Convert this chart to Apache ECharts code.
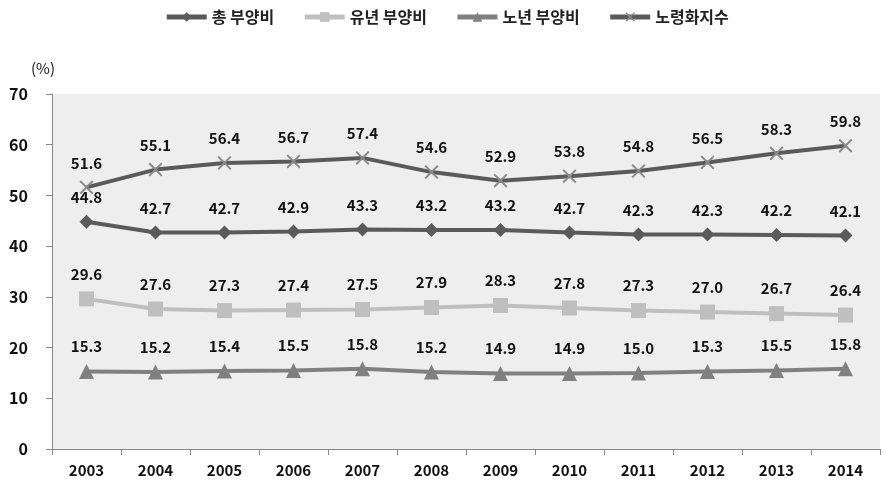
<!DOCTYPE html>
<html><head><meta charset="utf-8">
<script src="https://cdn.jsdelivr.net/npm/echarts@6/dist/echarts.min.js"></script>
<style>html,body{margin:0;padding:0;background:#fff}#c{width:893px;height:492px}</style>
</head><body><div id="c"></div>
<script>
const years = ['2003','2004','2005','2006','2007','2008','2009','2010','2011','2012','2013','2014'];
const total = [44.8,42.7,42.7,42.9,43.3,43.2,43.2,42.7,42.3,42.3,42.2,42.1];
const youth = [29.6,27.6,27.3,27.4,27.5,27.9,28.3,27.8,27.3,27.0,26.7,26.4];
const elderly = [15.3,15.2,15.4,15.5,15.8,15.2,14.9,14.9,15.0,15.3,15.5,15.8];
const aging = [51.6,55.1,56.4,56.7,57.4,54.6,52.9,53.8,54.8,56.5,58.3,59.8];
const names = ['총 부양비','유년 부양비','노년 부양비','노령화지수'];
const font = '"Noto Sans CJK KR","Noto Sans",sans-serif';
const xPath = 'path://M0,1L1,0L5,4L9,0L10,1L6,5L10,9L9,10L5,6L1,10L0,9L4,5Z';
const lbl = {show:true,position:'top',distance:10,color:'#111',fontSize:15,fontWeight:'bold',fontFamily:font,formatter:p=>p.value.toFixed(1)};
function s(name,data,color,symbol,size,symColor){
  return {name,type:'line',data,symbol,symbolSize:size,lineStyle:{color,width:4},
    itemStyle:{color:symColor||color},label:lbl,z:symbol===xPath?3:2};
}
const chart = echarts.init(document.getElementById('c'));
chart.setOption({
  animation:false,
  legend:{top:4,left:'center',itemGap:28,itemWidth:40,itemHeight:12,
    lineStyle:{width:5},
    textStyle:{fontFamily:font,fontSize:16,fontWeight:'bold',color:'#222'},data:names},
  grid:{left:52,right:13,top:94,bottom:43,show:true,backgroundColor:'#eeeeee',borderWidth:0},
  xAxis:{type:'category',data:years,boundaryGap:true,
    axisLine:{lineStyle:{color:'#888'}},axisTick:{show:true,length:6,lineStyle:{color:'#888'}},
    axisLabel:{color:'#111',fontSize:15,fontWeight:'bold',fontFamily:font,margin:14}},
  yAxis:{type:'value',min:0,max:70,interval:10,name:'(%)',nameLocation:'end',nameGap:18,
    nameTextStyle:{color:'#111',fontSize:15,fontFamily:font,align:'right',padding:[0,-3,0,0]},
    axisLine:{show:true,lineStyle:{color:'#888'}},axisTick:{show:true,length:6,lineStyle:{color:'#888'}},
    splitLine:{show:false},
    axisLabel:{color:'#111',fontSize:16,fontWeight:'bold',fontFamily:font,margin:24}},
  series:[
    s(names[0],total,'#5a5a5a','diamond',14),
    s(names[1],youth,'#bfbfbf','rect',15),
    s(names[2],elderly,'#808080','triangle',15),
    s(names[3],aging,'#5a5a5a',xPath,14,'#8a8a8a')
  ]
});
</script></body></html>
